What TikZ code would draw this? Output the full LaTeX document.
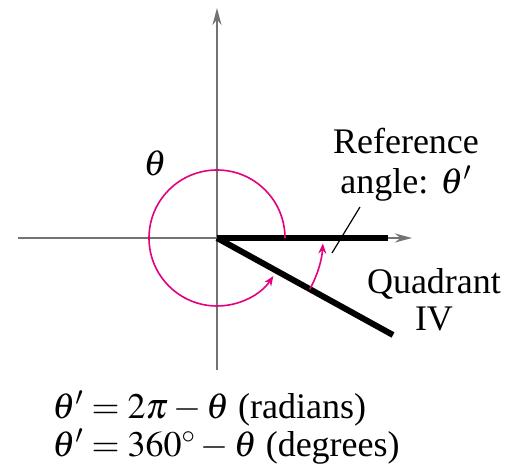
\documentclass[tikz,border=0pt]{standalone}
\usepackage{mathptmx}
\usepackage{fontspec}
\setmainfont{Liberation Serif}
\usetikzlibrary{arrows.meta}

\definecolor{arcmagenta}{RGB}{228,0,127}
\tikzstyle{axis}=[draw=black!55, line width=1pt, -{Stealth[length=8.5pt, width=4.5pt]}]
\tikzstyle{side}=[draw=black, line width=3pt]
\tikzstyle{angle arc}=[draw=arcmagenta, line width=0.8pt, -{Stealth[length=5pt, width=4pt]}]
\tikzstyle{label}=[font=\fontsize{18}{18.5}\selectfont, inner sep=0pt]

\begin{document}
\begin{tikzpicture}[x=0.5pt, y=0.5pt]
					\useasboundingbox (-217,-227) rectangle (299,238);
					\coordinate (O) at (0,0);
					\coordinate (L) at (-199,0);
					\coordinate (R) at (195,0);
					\coordinate (T) at (0,230);
					\coordinate (B) at (0,-132);
					\coordinate (P) at (171,0);
					\coordinate (Q) at (176,-97);

					\draw[axis] (L) -- (R);
					\draw[axis] (B) -- (T);
					\draw[side] (O) -- (P);
					\draw[side] (O) -- (Q);

					\draw[angle arc] (68,0) arc[start angle=0, end angle=326, radius=68];
					\draw[angle arc] (-29:106) arc[start angle=-29, end angle=-3, radius=106];

					\node[label] (theta) at (-62,75) {$\theta$};
					\node[label, anchor=base] (ref) at (189,84) {Reference};
					\node[label, anchor=base] (ref angle) at (189,44) {angle: $\theta'$};
					\coordinate (lead a) at (115,-15);
					\coordinate (lead b) at (143,31);
					\draw[black, line width=0.6pt] (lead a) -- (lead b);
					\node[label, align=center] (quad) at (217,-62) {Quadrant\\IV};

					\node[label, anchor=west] (rad) at (-165,-171) {$\theta' = 2\pi - \theta$ (radians)};
					\node[label, anchor=west] (deg) at (-165,-209) {$\theta' = 360^\circ - \theta$ (degrees)};
				\end{tikzpicture}
\end{document}
